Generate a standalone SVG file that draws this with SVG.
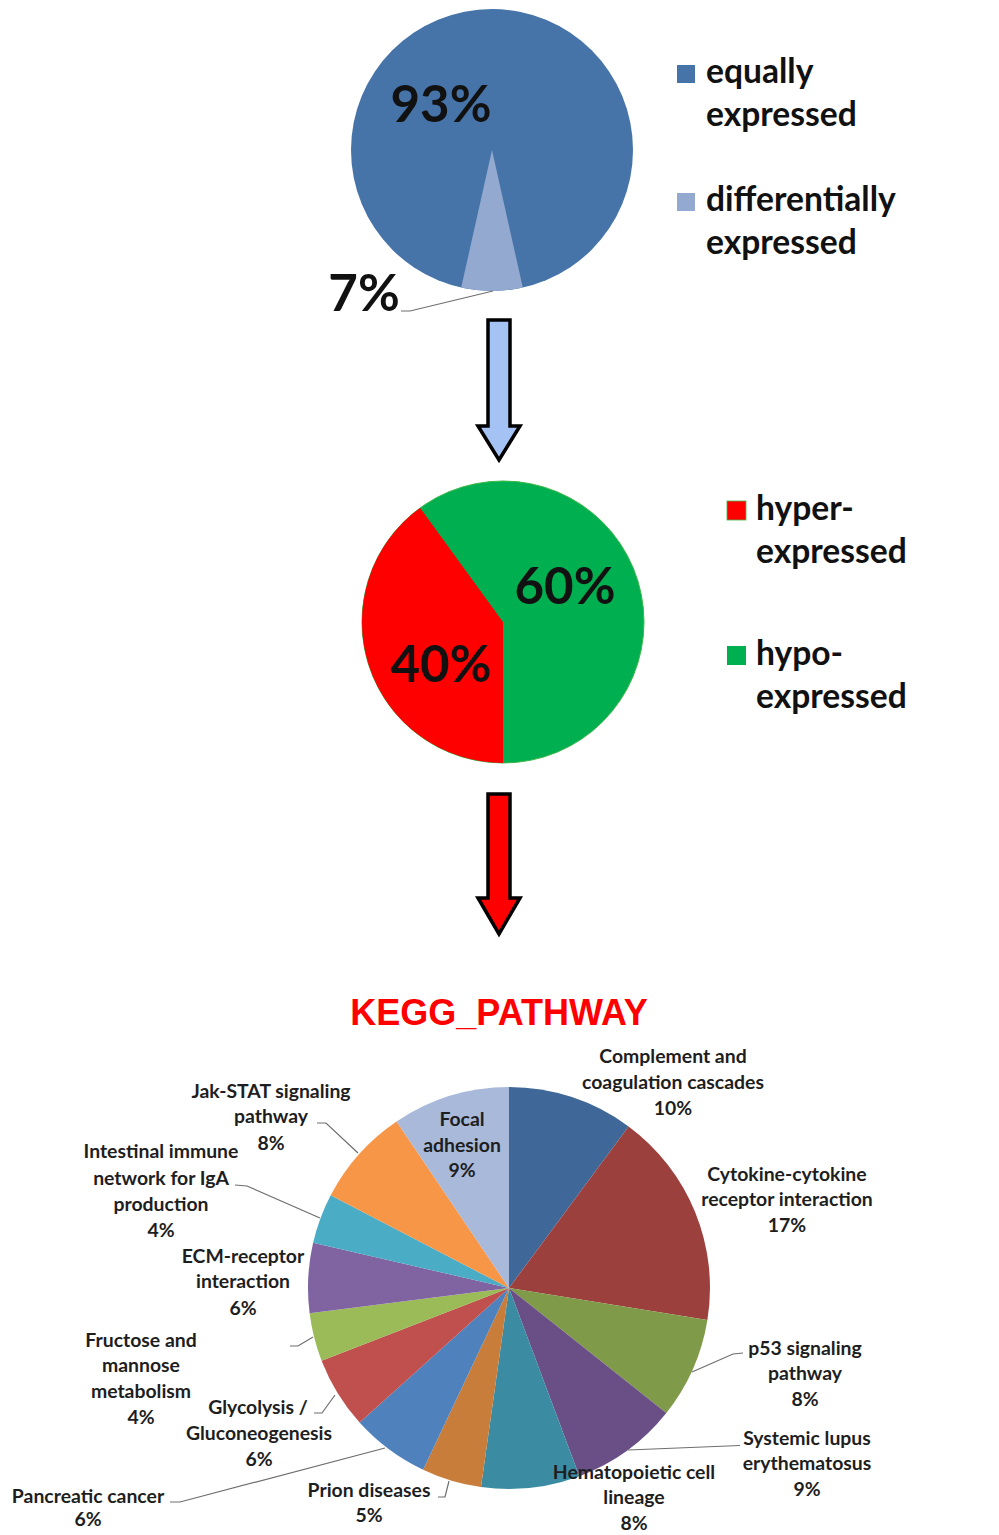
<svg xmlns="http://www.w3.org/2000/svg" width="999" height="1535" viewBox="0 0 999 1535">
<style>
text{font-family:"Lato","Open Sans","Noto Sans",sans-serif;font-weight:bold;fill:#111}
.big{font-size:51px;text-anchor:middle}
.leg{font-size:33.6px}
.lbl{font-size:19.4px;text-anchor:middle;fill:#1e1e1e}
.title{font-family:"Liberation Sans",Arial,sans-serif;font-size:36px;fill:#ff0000;text-anchor:middle}
.lead{fill:none;stroke:#6e6e6e;stroke-width:1.2}
.arrow{stroke:#000;stroke-width:3.5;stroke-linejoin:miter}
</style>
<rect width="999" height="1535" fill="#fff"/>

<g id="pie-overview">
  <circle cx="492" cy="150" r="141" fill="#4674a8"/>
  <path d="M492,150 L522.8,287.6 A141,141 0 0 1 461.2,287.6 Z" fill="#93a9cf"/>
  <text class="big" x="441" y="122">93%</text>
  <text class="big" x="364" y="311">7%</text>
</g>

<g id="legend-overview">
  <rect x="677" y="65" width="18" height="18" fill="#4674a8"/>
  <text class="leg" x="706" y="83">equally</text>
  <text class="leg" x="706" y="126">expressed</text>
  <rect x="677" y="193" width="18" height="18" fill="#93a9cf"/>
  <text class="leg" x="706" y="211">differentially</text>
  <text class="leg" x="706" y="254">expressed</text>
</g>

<g id="arrow-1">
  <polygon class="arrow" fill="#a4c2f4" points="488,320 510,320 510,426 520,426 499,460 478,426 488,426"/>
</g>

<g id="pie-expression">
  <circle cx="503" cy="622" r="141" fill="#00b050" stroke="#3cb84a" stroke-width="1"/>
  <path d="M503,622 L503,763 A141,141 0 0 1 420.1,507.9 Z" fill="#ff0000"/>
  <text class="big" x="565" y="604">60%</text>
  <text class="big" x="441" y="682">40%</text>
</g>

<g id="legend-expression">
  <rect x="727" y="501" width="19" height="19" fill="#ff0000" stroke="#3cb84a" stroke-width="0.8"/>
  <text class="leg" x="756" y="520">hyper-</text>
  <text class="leg" x="756" y="563">expressed</text>
  <rect x="727" y="646" width="19" height="19" fill="#00b050"/>
  <text class="leg" x="756" y="665">hypo-</text>
  <text class="leg" x="756" y="708">expressed</text>
</g>

<g id="arrow-2">
  <polygon class="arrow" fill="#ff0000" points="488,794 510,794 510,898 520,898 499,934 478,898 488,898"/>
</g>

<g id="kegg-title">
  <text class="title" x="499" y="1025">KEGG_PATHWAY</text>
</g>

<g id="kegg-pie">
  <path d="M509,1288 L509,1087 A201,201 0 0 1 628.6,1126.4 Z" fill="#3f6899"/>
  <path d="M509,1288 L628.6,1126.4 A201,201 0 0 1 707.4,1320.1 Z" fill="#9c403e"/>
  <path d="M509,1288 L707.4,1320.1 A201,201 0 0 1 666.3,1413.1 Z" fill="#7f9a48"/>
  <path d="M509,1288 L666.3,1413.1 A201,201 0 0 1 579.4,1476.3 Z" fill="#6a4f87"/>
  <path d="M509,1288 L579.4,1476.3 A201,201 0 0 1 481.0,1487.1 Z" fill="#3b8ca2"/>
  <path d="M509,1288 L481.0,1487.1 A201,201 0 0 1 423.1,1469.7 Z" fill="#c97d3a"/>
  <path d="M509,1288 L423.1,1469.7 A201,201 0 0 1 359.6,1422.5 Z" fill="#4f81bd"/>
  <path d="M509,1288 L359.6,1422.5 A201,201 0 0 1 321.6,1360.7 Z" fill="#c0504d"/>
  <path d="M509,1288 L321.6,1360.7 A201,201 0 0 1 309.6,1313.2 Z" fill="#9bbb59"/>
  <path d="M509,1288 L309.6,1313.2 A201,201 0 0 1 313.1,1242.8 Z" fill="#8064a2"/>
  <path d="M509,1288 L313.1,1242.8 A201,201 0 0 1 330.7,1195.2 Z" fill="#4bacc6"/>
  <path d="M509,1288 L330.7,1195.2 A201,201 0 0 1 396.6,1121.4 Z" fill="#f79646"/>
  <path d="M509,1288 L396.6,1121.4 A201,201 0 0 1 509,1087 Z" fill="#a9b9d9"/>
</g>

<g id="connectors">
  <polyline class="lead" points="493,291 410,311 401,311"/>
  <polyline class="lead" points="317,1123 326,1123 358,1153"/>
  <polyline class="lead" points="235,1185 247,1186 320,1218"/>
  <polyline class="lead" points="290,1346 298,1346 313,1337"/>
  <polyline class="lead" points="314,1413 322,1413 335,1395"/>
  <polyline class="lead" points="170,1502 180,1502 385,1448"/>
  <polyline class="lead" points="438,1497 445,1497 449,1481"/>
  <polyline class="lead" points="740,1445.5 628,1450"/>
  <polyline class="lead" points="743,1353 733,1354 692,1372"/>
</g>

<g id="label-complement">
  <text class="lbl" x="673" y="1063">Complement and</text>
  <text class="lbl" x="673" y="1089">coagulation  cascades</text>
  <text class="lbl" x="673" y="1115">10%</text>
</g>
<g id="label-cytokine">
  <text class="lbl" x="787" y="1181">Cytokine-cytokine</text>
  <text class="lbl" x="787" y="1206">receptor interaction</text>
  <text class="lbl" x="787" y="1232">17%</text>
</g>
<g id="label-p53">
  <text class="lbl" x="805" y="1355">p53 signaling</text>
  <text class="lbl" x="805" y="1380">pathway</text>
  <text class="lbl" x="805" y="1406">8%</text>
</g>
<g id="label-lupus">
  <text class="lbl" x="807" y="1445">Systemic lupus</text>
  <text class="lbl" x="807" y="1470">erythematosus</text>
  <text class="lbl" x="807" y="1496">9%</text>
</g>
<g id="label-hematopoietic">
  <text class="lbl" x="634" y="1479">Hematopoietic cell</text>
  <text class="lbl" x="634" y="1504">lineage</text>
  <text class="lbl" x="634" y="1530">8%</text>
</g>
<g id="label-prion">
  <text class="lbl" x="369" y="1497">Prion diseases</text>
  <text class="lbl" x="369" y="1522">5%</text>
</g>
<g id="label-pancreatic">
  <text class="lbl" x="88" y="1503">Pancreatic cancer</text>
  <text class="lbl" x="88" y="1526">6%</text>
</g>
<g id="label-glycolysis">
  <text class="lbl" x="258" y="1414">Glycolysis /</text>
  <text class="lbl" x="259" y="1440">Gluconeogenesis</text>
  <text class="lbl" x="259" y="1466">6%</text>
</g>
<g id="label-fructose">
  <text class="lbl" x="141" y="1347">Fructose and</text>
  <text class="lbl" x="141" y="1372">mannose</text>
  <text class="lbl" x="141" y="1398">metabolism</text>
  <text class="lbl" x="141" y="1424">4%</text>
</g>
<g id="label-ecm">
  <text class="lbl" x="243" y="1263">ECM-receptor</text>
  <text class="lbl" x="243" y="1288">interaction</text>
  <text class="lbl" x="243" y="1315">6%</text>
</g>
<g id="label-intestinal">
  <text class="lbl" x="161" y="1158">Intestinal immune</text>
  <text class="lbl" x="161" y="1185">network for IgA</text>
  <text class="lbl" x="161" y="1211">production</text>
  <text class="lbl" x="161" y="1237">4%</text>
</g>
<g id="label-jakstat">
  <text class="lbl" x="271" y="1098">Jak-STAT signaling</text>
  <text class="lbl" x="271" y="1123">pathway</text>
  <text class="lbl" x="271" y="1150">8%</text>
</g>
<g id="label-focal">
  <text class="lbl" x="462" y="1126">Focal</text>
  <text class="lbl" x="462" y="1152">adhesion</text>
  <text class="lbl" x="462" y="1177">9%</text>
</g>
</svg>
